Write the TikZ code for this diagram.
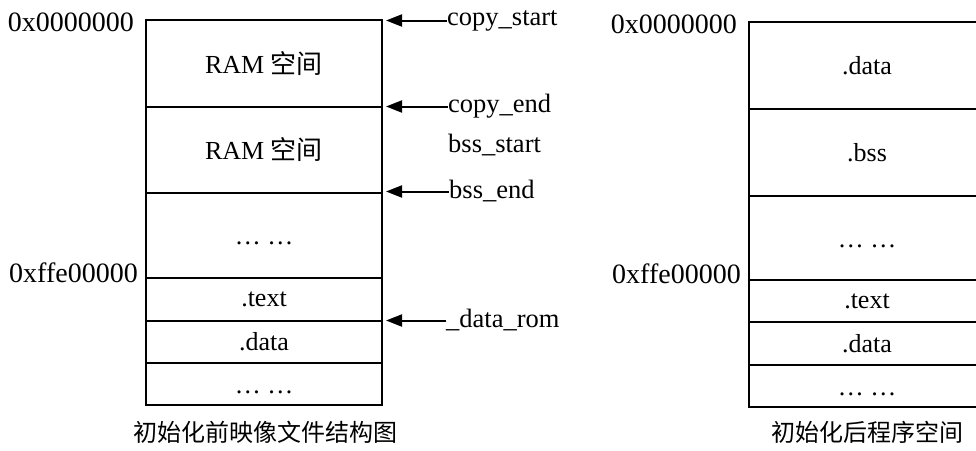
\documentclass[tikz,border=0pt]{standalone}
\usepackage{fontspec}
\setmainfont{Liberation Serif}
\newfontfamily\cjk{Noto Sans CJK SC}
\usetikzlibrary{positioning,arrows.meta}

\begin{document}
\begin{tikzpicture}[x=1pt, y=-1pt, node distance=0pt,
  cell/.style={draw, line width=2.2pt, minimum width=236pt, inner sep=0pt, outer sep=0pt,
    font=\fontsize{26}{30}\selectfont},
  dots/.style={cell, text height=18pt, text depth=0pt},
  addr/.style={anchor=base east, inner sep=0pt, font=\fontsize{28}{32}\selectfont},
  tag/.style={anchor=west, inner sep=0pt, font=\fontsize{26.5}{30}\selectfont},
  ptr/.style={-{Triangle[length=16pt,width=12pt]}, line width=2pt, shorten >=4pt},
  caption/.style={font=\cjk\fontsize{24}{28}\selectfont}]
\useasboundingbox (0,0) rectangle (976,450);
\clip (0,0) rectangle (976,450);

% Image before initialisation
\node[cell, minimum height=87pt] (ram1) at (264,63.5) {RAM {\cjk 空间}};
\node[cell, minimum height=86pt, below=of ram1] (ram2) {RAM {\cjk 空间}};
\node[dots, minimum height=85pt, below=of ram2] (gapA) {… …};
\node[cell, minimum height=43pt, below=of gapA] (textA) {.text};
\node[cell, minimum height=42pt, below=of textA] (dataA) {.data};
\node[dots, minimum height=42pt, below=of dataA] (restA) {… …};

\node[addr] at (134,31) {0x0000000};
\node[addr] at (138,282) {0xffe00000};

% Symbols
\node[tag] (copystart) at (447,20.5) {copy\_start};
\node[tag] (copyend) at (448,106.5) {copy\_end};
\node[tag] (bssstart) at (448,145) {bss\_start};
\node[tag] (bssend) at (449,191.5) {bss\_end};
\node[tag] (datarom) at (446,320.5) {\_data\_rom};

\draw[ptr] (copystart.west) -- (copystart.west -| ram1.east);
\draw[ptr] (copyend.west) -- (copyend.west -| ram1.east);
\draw[ptr] (bssend.west) -- (bssend.west -| ram1.east);
\draw[ptr] (datarom.west) -- (datarom.west -| ram1.east);

\node[caption] (capA) at (265,432) {初始化前映像文件结构图};

% Program space after initialisation
\node[cell, minimum height=87pt] (dataB) at (867,65.5) {.data};
\node[cell, minimum height=87pt, below=of dataB] (bss) {.bss};
\node[dots, minimum height=84pt, below=of bss] (gapB) {… …};
\node[cell, minimum height=42pt, below=of gapB] (textB) {.text};
\node[cell, minimum height=43pt, below=of textB] (dataC) {.data};
\node[dots, minimum height=42pt, below=of dataC] (restB) {… …};

\node[addr] at (737,33) {0x0000000};
\node[addr] at (741,283) {0xffe00000};

\node[caption] (capB) at (867,432) {初始化后程序空间};
\end{tikzpicture}
\end{document}
